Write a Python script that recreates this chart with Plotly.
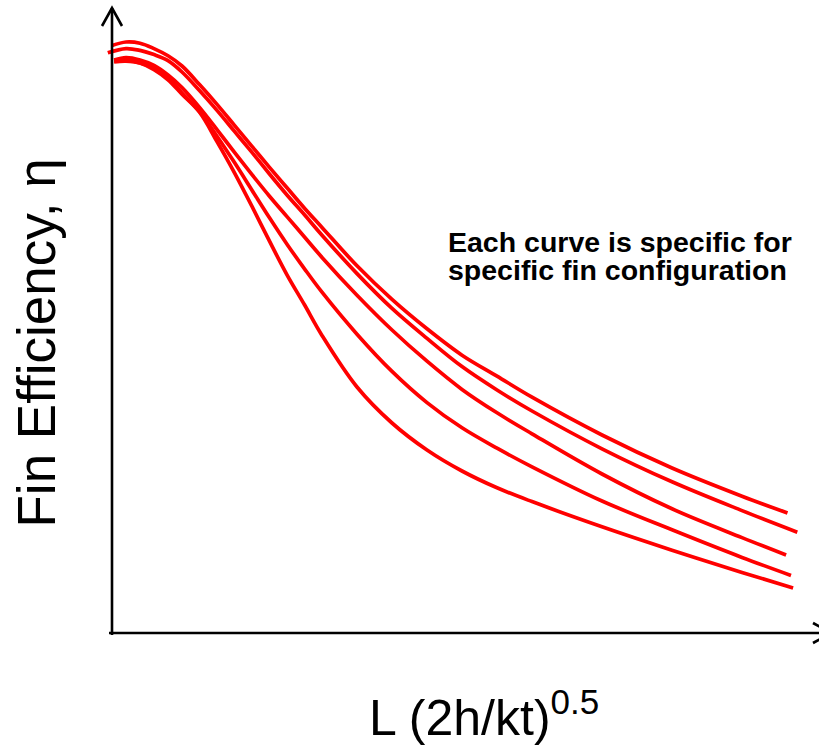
import plotly.graph_objects as go

# Dimensionless fin parameter L(2h/kt)^0.5 sampled along each curve
L_GRID = [0.2, 0.4, 0.6, 0.8, 1.0, 1.25, 1.5, 1.75, 2.0, 2.25, 2.5, 2.75,
          3.0, 3.5, 4.0, 4.5, 5.0, 5.5, 6.0, 7.0, 8.0, 9.0]
X_START = [0.0, -0.06, 0.03, 0.03, 0.03]
X_END = [9.65, 9.79, 9.63, 9.70, 9.73]

# Fin efficiency for five fin configurations (start, grid points, end)
eta_1 = [0.979, 0.985, 0.983, 0.974, 0.962, 0.945, 0.914, 0.881, 0.846, 0.811, 0.776, 0.742,
         0.708, 0.676, 0.612, 0.556, 0.507, 0.463, 0.428, 0.393, 0.330, 0.275, 0.228, 0.200]
eta_2 = [0.967, 0.974, 0.971, 0.964, 0.954, 0.935, 0.904, 0.871, 0.836, 0.801, 0.765, 0.730,
         0.697, 0.663, 0.599, 0.541, 0.491, 0.444, 0.405, 0.370, 0.307, 0.252, 0.204, 0.168]
eta_3 = [0.955, 0.959, 0.955, 0.946, 0.930, 0.909, 0.876, 0.839, 0.801, 0.764, 0.728, 0.694,
         0.660, 0.626, 0.563, 0.505, 0.453, 0.406, 0.367, 0.332, 0.265, 0.207, 0.159, 0.130]
eta_4 = [0.952, 0.953, 0.950, 0.941, 0.925, 0.900, 0.869, 0.828, 0.784, 0.738, 0.692, 0.648,
         0.607, 0.568, 0.498, 0.436, 0.384, 0.342, 0.308, 0.277, 0.220, 0.172, 0.126, 0.096]
eta_5 = [0.953, 0.954, 0.950, 0.939, 0.922, 0.898, 0.868, 0.819, 0.767, 0.711, 0.653, 0.597,
         0.547, 0.496, 0.410, 0.350, 0.305, 0.270, 0.242, 0.219, 0.177, 0.138, 0.101, 0.075]
ETA = [eta_1, eta_2, eta_3, eta_4, eta_5]

Y_TITLE = "Fin Efficiency, η"
X_TITLE = "L (2h/kt)<sup>0.5</sup>"
NOTE = ["Each curve is specific for", "specific fin configuration"]

W, H = 819, 745
# pixel scale of the drawing: origin at (112, 633), 70 px per x unit, 600 px per eta unit
X0_PX, Y0_PX, SX, SY = 112, 633, 70.0, 600.0
XR = [-X0_PX / SX, (W - X0_PX) / SX]
YR = [(Y0_PX - H) / SY, Y0_PX / SY]

FONT = "Liberation Sans, Arial, sans-serif"
RED = "#ff0000"

fig = go.Figure()
for x0, x1, eta in zip(X_START, X_END, ETA):
    fig.add_trace(go.Scatter(
        x=[x0] + L_GRID + [x1], y=eta, mode="lines",
        line=dict(color=RED, width=3.7, shape="spline", smoothing=1.0),
        hoverinfo="skip", showlegend=False))

# hand-drawn style axes with open chevron arrowheads
ax = dict(color="black", width=2.6)
y_top = (Y0_PX - 8) / SY
x_tip = (831 - X0_PX) / SX
shapes = [
    dict(type="line", xref="x", yref="y", x0=0, x1=0, y0=-2 / SY, y1=y_top, line=ax),
    dict(type="line", xref="x", yref="y", x0=-3 / SX, x1=x_tip, y0=0, y1=0, line=ax),
    dict(type="path", xref="x", yref="y", line=ax,
         path=f"M {-10 / SX} {y_top - 18 / SY} L 0 {y_top} L {10 / SX} {y_top - 18 / SY}"),
    dict(type="path", xref="x", yref="y", line=ax,
         path=f"M {x_tip - 18 / SX} {10 / SY} L {x_tip} 0 L {x_tip - 18 / SX} {-10 / SY}"),
]


def px(xp):
    return xp / W


def py(yp):
    return 1 - yp / H


annotations = [
    dict(text=Y_TITLE, textangle=-90, xref="paper", yref="paper", x=px(36), y=py(343.5),
         xanchor="center", yanchor="middle", showarrow=False,
         font=dict(family=FONT, size=53, color="black")),
    dict(text=X_TITLE, xref="paper", yref="paper", x=px(484), y=py(714),
         xanchor="center", yanchor="middle", showarrow=False,
         font=dict(family=FONT, size=50, color="black")),
]
for line_text, yc in zip(NOTE, [241.5, 269.5]):
    annotations.append(dict(
        text=f"<b>{line_text}</b>", xref="paper", yref="paper", x=px(446), y=py(yc),
        xanchor="left", yanchor="middle", showarrow=False,
        font=dict(family=FONT, size=28.5, color="black")))

fig.update_layout(
    width=W, height=H, margin=dict(l=0, r=0, t=0, b=0),
    paper_bgcolor="white", plot_bgcolor="white",
    xaxis=dict(range=XR, visible=False, fixedrange=True),
    yaxis=dict(range=YR, visible=False, fixedrange=True),
    shapes=shapes, annotations=annotations,
)

fig.write_html("out.html")
